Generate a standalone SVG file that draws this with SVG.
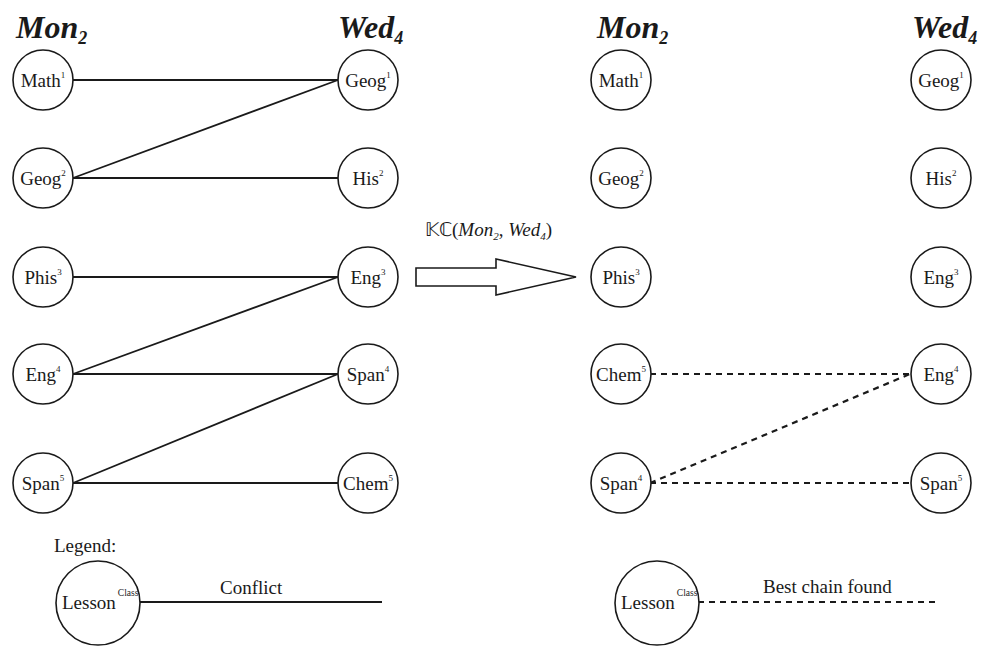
<svg xmlns="http://www.w3.org/2000/svg" width="982" height="647" viewBox="0 0 982 647">
<style>
.n{fill:#fff;stroke:#1a1a1a;stroke-width:1.6}
.t{font-family:"Liberation Serif","Times New Roman",serif;font-size:19px;fill:#1a1a1a;text-anchor:middle}
.sup{font-size:9px}
.h{font-family:"Liberation Serif","Times New Roman",serif;font-size:32px;font-weight:bold;font-style:italic;fill:#1a1a1a}
.hs{font-size:18px}
.c{stroke:#1a1a1a;stroke-width:1.8;fill:none}
.d{stroke:#1a1a1a;stroke-width:2.2;fill:none;stroke-dasharray:6,5}
.l{font-family:"Liberation Serif","Times New Roman",serif;font-size:19px;fill:#1a1a1a}
</style>
<rect width="982" height="647" fill="#fff"/>
<text class="h" x="16" y="38">Mon<tspan class="hs" dy="6">2</tspan></text>
<text class="h" x="338" y="38">Wed<tspan class="hs" dy="6">4</tspan></text>
<text class="h" x="597" y="38">Mon<tspan class="hs" dy="6">2</tspan></text>
<text class="h" x="912" y="38">Wed<tspan class="hs" dy="6">4</tspan></text>

<g id="connectors">
<line class="c" x1="73" y1="80" x2="338" y2="80"/>
<line class="c" x1="73" y1="178" x2="338" y2="80"/>
<line class="c" x1="73" y1="178" x2="338" y2="178"/>
<line class="c" x1="73" y1="277" x2="338" y2="277"/>
<line class="c" x1="73" y1="374" x2="338" y2="277"/>
<line class="c" x1="73" y1="374" x2="338" y2="374"/>
<line class="c" x1="73" y1="483" x2="338" y2="374"/>
<line class="c" x1="73" y1="483" x2="338" y2="483"/>
<line class="c" x1="140" y1="602" x2="382" y2="602"/>
<line class="d" x1="650" y1="374" x2="910" y2="374"/>
<line class="d" x1="650" y1="483" x2="910" y2="374"/>
<line class="d" x1="650" y1="483" x2="910" y2="483"/>
<line class="d" x1="698" y1="602" x2="938" y2="602"/>
</g>

<g id="L-Math1"><circle class="n" cx="43" cy="80" r="30"/><text class="t" x="43" y="87">Math<tspan class="sup" dy="-9">1</tspan></text></g>
<g id="L-Geog2"><circle class="n" cx="43" cy="178" r="30"/><text class="t" x="43" y="185">Geog<tspan class="sup" dy="-9">2</tspan></text></g>
<g id="L-Phis3"><circle class="n" cx="43" cy="277" r="30"/><text class="t" x="43" y="284">Phis<tspan class="sup" dy="-9">3</tspan></text></g>
<g id="L-Eng4"><circle class="n" cx="43" cy="374" r="30"/><text class="t" x="43" y="381">Eng<tspan class="sup" dy="-9">4</tspan></text></g>
<g id="L-Span5"><circle class="n" cx="43" cy="483" r="30"/><text class="t" x="43" y="490">Span<tspan class="sup" dy="-9">5</tspan></text></g>

<g id="L-Geog1"><circle class="n" cx="368" cy="80" r="30"/><text class="t" x="368" y="87">Geog<tspan class="sup" dy="-9">1</tspan></text></g>
<g id="L-His2"><circle class="n" cx="368" cy="178" r="30"/><text class="t" x="368" y="185">His<tspan class="sup" dy="-9">2</tspan></text></g>
<g id="L-Eng3"><circle class="n" cx="368" cy="277" r="30"/><text class="t" x="368" y="284">Eng<tspan class="sup" dy="-9">3</tspan></text></g>
<g id="L-Span4"><circle class="n" cx="368" cy="374" r="30"/><text class="t" x="368" y="381">Span<tspan class="sup" dy="-9">4</tspan></text></g>
<g id="L-Chem5"><circle class="n" cx="368" cy="483" r="30"/><text class="t" x="368" y="490">Chem<tspan class="sup" dy="-9">5</tspan></text></g>

<g id="R-Math1"><circle class="n" cx="621" cy="80" r="30"/><text class="t" x="621" y="87">Math<tspan class="sup" dy="-9">1</tspan></text></g>
<g id="R-Geog2"><circle class="n" cx="621" cy="178" r="30"/><text class="t" x="621" y="185">Geog<tspan class="sup" dy="-9">2</tspan></text></g>
<g id="R-Phis3"><circle class="n" cx="621" cy="277" r="30"/><text class="t" x="621" y="284">Phis<tspan class="sup" dy="-9">3</tspan></text></g>
<g id="R-Chem5"><circle class="n" cx="621" cy="374" r="30"/><text class="t" x="621" y="381">Chem<tspan class="sup" dy="-9">5</tspan></text></g>
<g id="R-Span4"><circle class="n" cx="621" cy="483" r="30"/><text class="t" x="621" y="490">Span<tspan class="sup" dy="-9">4</tspan></text></g>

<g id="R-Geog1"><circle class="n" cx="941" cy="80" r="30"/><text class="t" x="941" y="87">Geog<tspan class="sup" dy="-9">1</tspan></text></g>
<g id="R-His2"><circle class="n" cx="941" cy="178" r="30"/><text class="t" x="941" y="185">His<tspan class="sup" dy="-9">2</tspan></text></g>
<g id="R-Eng3"><circle class="n" cx="941" cy="277" r="30"/><text class="t" x="941" y="284">Eng<tspan class="sup" dy="-9">3</tspan></text></g>
<g id="R-Eng4"><circle class="n" cx="941" cy="374" r="30"/><text class="t" x="941" y="381">Eng<tspan class="sup" dy="-9">4</tspan></text></g>
<g id="R-Span5"><circle class="n" cx="941" cy="483" r="30"/><text class="t" x="941" y="490">Span<tspan class="sup" dy="-9">5</tspan></text></g>

<g id="transform-arrow">
<polygon class="n" points="416,268 496,268 496,259 576,277 496,295 496,286 416,286"/>
<text class="l" x="425" y="236">𝕂ℂ(<tspan font-style="italic">Mon</tspan><tspan font-style="italic" font-size="11" dy="4">2</tspan><tspan dy="-4">, </tspan><tspan font-style="italic">Wed</tspan><tspan font-style="italic" font-size="11" dy="4">4</tspan><tspan dy="-4">)</tspan></text>
</g>

<g id="legend-left">
<text class="l" x="54" y="552" font-size="21">Legend:</text>
<circle class="n" cx="98" cy="603" r="42"/>
<text class="l" x="62" y="609" font-size="19">Lesson<tspan font-size="9.5" dy="-13" dx="2">Class</tspan></text>
<text class="l" x="220" y="594">Conflict</text>
</g>
<g id="legend-right">
<circle class="n" cx="657" cy="603" r="42"/>
<text class="l" x="621" y="609" font-size="19">Lesson<tspan font-size="9.5" dy="-13" dx="2">Class</tspan></text>
<text class="l" x="763" y="593" font-size="17">Best chain found</text>
</g>
</svg>
